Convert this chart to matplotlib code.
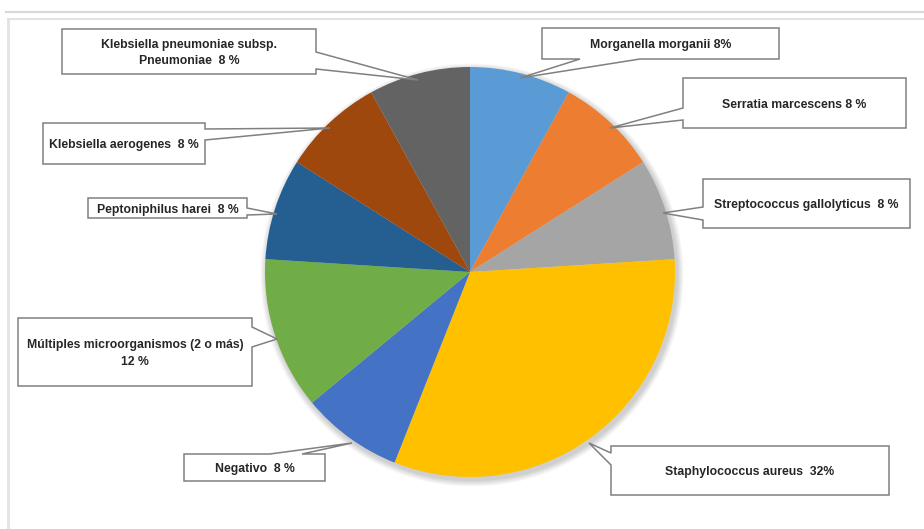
import matplotlib.pyplot as plt
from matplotlib.patches import Polygon, Circle

# datos del gráfico
categorias = ["Morganella morganii", "Serratia marcescens", "Streptococcus gallolyticus",
              "Staphylococcus aureus", "Negativo", "Múltiples microorganismos (2 o más)",
              "Peptoniphilus harei", "Klebsiella aerogenes", "Klebsiella pneumoniae subsp. Pneumoniae"]
porcentajes = [8, 8, 8, 32, 8, 12, 8, 8, 8]
etiquetas = ["Morganella morganii 8%", "Serratia marcescens 8 %", "Streptococcus gallolyticus  8 %",
             "Staphylococcus aureus  32%", "Negativo  8 %", "Múltiples microorganismos (2 o más)\n12 %",
             "Peptoniphilus harei  8 %", "Klebsiella aerogenes  8 %",
             "Klebsiella pneumoniae subsp.\nPneumoniae  8 %"]
colores = ["#5B9BD5", "#ED7D31", "#A5A5A5", "#FFC000", "#4472C4",
           "#70AD47", "#255E91", "#9E480E", "#636363"]

# cajas de las etiquetas (x0, y0, x1, y1), lado de la flecha, base y punta (en pixeles)
cajas = [
    ((542, 28, 779, 59), "bottom", (640, 580), (520, 78)),
    ((683, 78, 906, 128), "left", (120, 108), (610, 128)),
    ((703, 179, 910, 228), "left", (220, 207), (663, 213)),
    ((611, 446, 889, 495), "left", (465, 453), (589, 443)),
    ((184, 454, 325, 481), "top", (270, 302), (352, 443)),
    ((18, 318, 252, 386), "right", (327, 347), (277, 339)),
    ((88, 198, 247, 218), "right", (208, 215), (277, 214)),
    ((43, 123, 205, 164), "right", (129, 140), (330, 128)),
    ((62, 29, 316, 74), "right", (52, 69), (418, 80)),
]

W, H = 924, 529
plt.rcParams['font.family'] = ['Liberation Sans', 'DejaVu Sans']

fig = plt.figure(figsize=(W / 100, H / 100), dpi=100)
ax = fig.add_axes([0, 0, 1, 1])

# marco gris de la imagen
ax.plot([6, W], [12, 12], color='#d9d9d9', lw=1.5)
ax.plot([8, W], [19, 19], color='#e3e3e3', lw=1.5)
ax.plot([8, 8], [19, H], color='#e3e3e3', lw=2)

cx, cy, r = 470, 272, 205

# sombra suave
for i in range(8):
    ax.add_patch(Circle((cx + 2, cy + 3), r + 1 + i * 0.8, color='black', alpha=0.022, lw=0, zorder=1))

ax.pie(porcentajes, colors=colores, startangle=-90, counterclock=True,
       center=(cx, cy), radius=r, frame=True,
       wedgeprops=dict(linewidth=0, zorder=2))
ax.set_xlim(0, W)
ax.set_ylim(H, 0)
ax.set_aspect('equal')
ax.axis('off')


def callout(caja, lado, base, punta):
    x0, y0, x1, y1 = caja
    tl, tr, br, bl = (x0, y0), (x1, y0), (x1, y1), (x0, y1)
    if lado == "top":
        cuña = [(base[0], y0), punta, (base[1], y0)]
        pts = [tl] + cuña + [tr, br, bl]
    elif lado == "right":
        cuña = [(x1, base[0]), punta, (x1, base[1])]
        pts = [tl, tr] + cuña + [br, bl]
    elif lado == "bottom":
        cuña = [(base[0], y1), punta, (base[1], y1)]
        pts = [tl, tr, br] + cuña + [bl]
    else:
        cuña = [(x0, base[0]), punta, (x0, base[1])]
        pts = [tl, tr, br, bl] + cuña
    return pts


for texto, (caja, lado, base, punta) in zip(etiquetas, cajas):
    pts = callout(caja, lado, base, punta)
    ax.add_patch(Polygon(pts, closed=True, facecolor='white', edgecolor='#808080',
                         lw=1.1, zorder=5, joinstyle='miter'))
    x0, y0, x1, y1 = caja
    ax.text((x0 + x1) / 2, (y0 + y1) / 2 + 1.5, texto, ha='center', va='center',
            fontsize=8.8, fontweight='bold', color='#262626', linespacing=1.45, zorder=6)

plt.savefig('out.png', dpi=100)
